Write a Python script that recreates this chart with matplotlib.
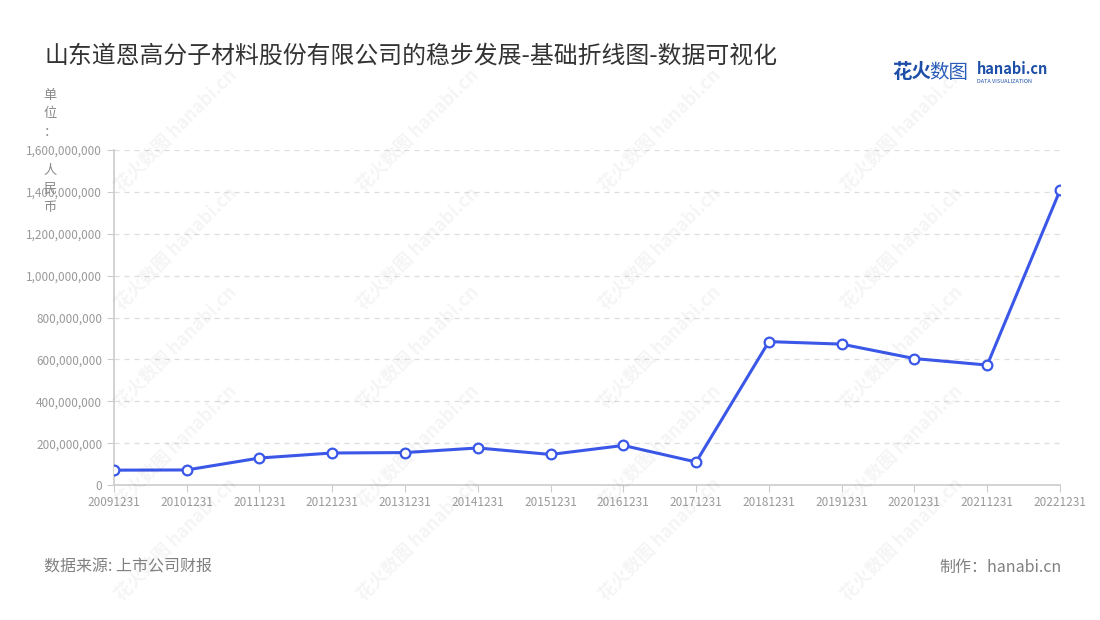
import matplotlib
matplotlib.use('Agg')
import matplotlib.pyplot as plt
from matplotlib.ticker import FuncFormatter, MultipleLocator

plt.rcParams['font.family'] = ['Noto Sans CJK SC', 'DejaVu Sans']

dates = ['20091231', '20101231', '20111231', '20121231', '20131231', '20141231', '20151231',
         '20161231', '20171231', '20181231', '20191231', '20201231', '20211231', '20221231']
values = [71e6, 72e6, 129e6, 153e6, 155e6, 177e6, 146e6,
          189e6, 110e6, 685e6, 673e6, 604e6, 573e6, 1407e6]

title = '山东道恩高分子材料股份有限公司的稳步发展-基础折线图-数据可视化'
unit_chars = ['单', '位', '：', '人', '民', '币']
line_color = '#3a57e8'

fig = plt.figure(figsize=(11, 6.2), dpi=100)
ax = fig.add_axes([0.1036, 0.2177, 0.86, 0.5403])

x = list(range(len(dates)))
ax.plot(x, values, color=line_color, lw=2.2, marker='o', markersize=7,
        markerfacecolor='white', markeredgecolor=line_color, markeredgewidth=1.6, zorder=3)

ax.set_xlim(0, len(dates) - 1)
ax.set_ylim(0, 1.6e9)
ax.yaxis.set_major_locator(MultipleLocator(2e8))
ax.yaxis.set_major_formatter(FuncFormatter(lambda v, p: f'{int(v):,}'))
ax.set_xticks(x)
ax.set_xticklabels(dates)
ax.grid(axis='y', color='#dddddd', linestyle=(0, (4, 4)), lw=0.9)
ax.set_axisbelow(True)
for s in ['top', 'right']:
    ax.spines[s].set_visible(False)
for s in ['left', 'bottom']:
    ax.spines[s].set_color('#cccccc')
    ax.spines[s].set_linewidth(1.2)
ax.tick_params(axis='both', colors='#cccccc', labelcolor='#999999', labelsize=8.5, length=5)
ax.tick_params(axis='x', pad=3)

# watermarks
for wy in [0.79, 0.6, 0.44, 0.28, 0.13]:
    for wx in [0.16, 0.38, 0.6, 0.82]:
        fig.text(wx, wy, '花火数图 hanabi.cn', rotation=45, fontsize=13, color='#000000',
                 alpha=0.045, ha='center', va='center', fontweight='bold')

fig.text(0.04, 0.91, title, fontsize=17.2, color='#333333', va='center', ha='left')

# logo
fig.text(0.811, 0.883, '花火', fontsize=14, color='#1d4fa8', fontweight='bold', va='center')
fig.text(0.845, 0.883, '数图', fontsize=14, color='#2a5db8', va='center')
fig.text(0.888, 0.888, 'hanabi.cn', fontsize=10.5, color='#1d4fa8', fontweight='bold', va='center')
fig.text(0.888, 0.869, 'DATA VISUALIZATION', fontsize=4, color='#1d4fa8', va='center')

# vertical unit label
for i, ch in enumerate(unit_chars):
    yy = [95, 114, 133, 170, 189, 208][i]
    fig.text(0.0455, 1 - yy / 620, ch, fontsize=9.5, color='#888888', ha='center', va='center')

fig.text(0.04, 0.085, '数据来源: 上市公司财报', fontsize=11.5, color='#808080', va='center')
fig.text(0.965, 0.085, '制作：hanabi.cn', fontsize=11.5, color='#808080', va='center', ha='right')

fig.savefig('out.png', dpi=100)
